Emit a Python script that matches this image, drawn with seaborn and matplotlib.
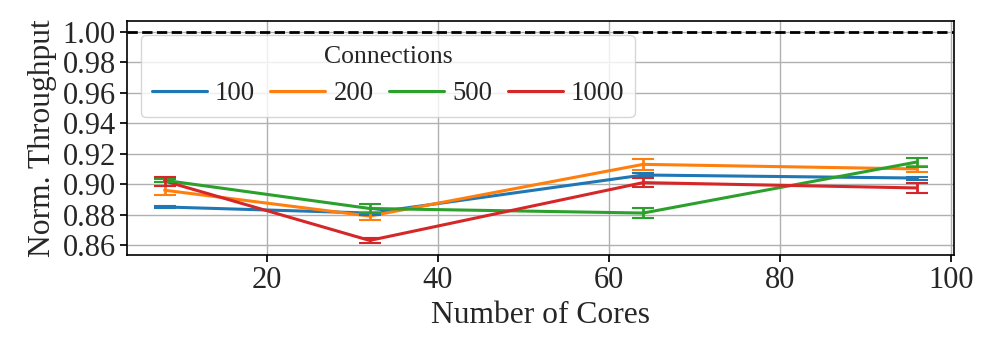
import numpy as np
import pandas as pd
import seaborn as sns
import matplotlib
matplotlib.use('Agg')
import matplotlib.pyplot as plt

# values
cores = [8, 32, 64, 96]
connections = ['100', '200', '500', '1000']
tput_100 = [0.885, 0.881, 0.906, 0.904]
tput_200 = [0.896, 0.879, 0.913, 0.910]
tput_500 = [0.9025, 0.884, 0.881, 0.9145]
tput_1000 = [0.902, 0.863, 0.901, 0.8975]
err_100 = [0.0005, 0.001, 0.0015, 0.001]
err_200 = [0.003, 0.0025, 0.0035, 0.002]
err_500 = [0.001, 0.003, 0.003, 0.003]
err_1000 = [0.003, 0.0015, 0.003, 0.003]
yticks = [0.86, 0.88, 0.90, 0.92, 0.94, 0.96, 0.98, 1.00]


def main():
    sns.set_theme(style='ticks', palette='tab10')
    plt.rcParams['font.family'] = ['Liberation Serif', 'DejaVu Serif']

    rows = []
    for c, t, e in zip(connections, [tput_100, tput_200, tput_500, tput_1000],
                       [err_100, err_200, err_500, err_1000]):
        for x, y, s in zip(cores, t, e):
            rows.append({'cores': x, 'tput': y, 'err': s, 'Connections': c})
    df = pd.DataFrame(rows)

    fig, ax = plt.subplots(figsize=(9.96, 3.56), dpi=100)
    fig.subplots_adjust(left=0.1275, right=0.958, top=0.941, bottom=0.284)

    colors = sns.color_palette('tab10', 4)
    sns.lineplot(data=df, x='cores', y='tput', hue='Connections', hue_order=connections,
                 palette=colors, linewidth=2.2, ax=ax)
    for c, col in zip(connections, colors):
        d = df[df['Connections'] == c]
        ax.errorbar(d['cores'], d['tput'], yerr=d['err'], fmt='none', ecolor=col,
                    elinewidth=2, capsize=8, capthick=1.5)

    ax.axhline(1.0, color='black', linestyle='--', linewidth=2)

    ax.set_ylim(0.8535, 1.0072)
    ax.set_yticks(yticks)
    ax.set_yticklabels(['{:.2f}'.format(v) for v in yticks])
    ax.grid(True, color='#b0b0b0', linewidth=1)
    for s in ax.spines.values():
        s.set_color('black')
        s.set_linewidth(1.2)
    ax.tick_params(labelsize=22, color='black', length=5, pad=3)

    ax.set_xlabel('Number of Cores', fontsize=22.7, labelpad=4)
    ax.set_ylabel('Norm. Throughput', fontsize=22.7, labelpad=4)

    ax.legend(title='Connections', ncol=4, loc='upper left', bbox_to_anchor=(0.017, 0.94),
              borderaxespad=0, fontsize=19.3, title_fontsize=18.5, handlelength=2.05,
              columnspacing=0.58, handletextpad=0.3, frameon=True, framealpha=0.8)

    fig.savefig('out.png', dpi=100)


if __name__ == '__main__':
    main()
